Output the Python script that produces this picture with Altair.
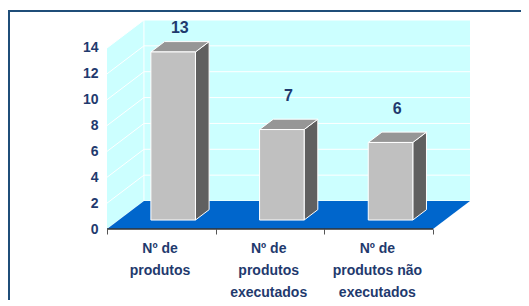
import altair as alt
import pandas as pd

# ---- data ----
label_lines = [
    ["Nº de", "produtos"],
    ["Nº de", "produtos", "executados"],
    ["Nº de", "produtos não", "executados"],
]
values = [13, 7, 6]
y_ticks = [0, 2, 4, 6, 8, 10, 12, 14]

# ---- 3-D geometry (in data units) ----
N = len(values)
YTOP = max(y_ticks)
DX = 0.34          # depth shift along x (category units)
DY = 2.165         # depth shift along y (value units)
XMAX = N + DX
YMAX = YTOP + DY
BW = 0.41          # bar width
F1, F2 = 0.32, 0.69  # bar front/back depth fractions

PLOT_W, PLOT_H = 363, 209
PAD_L, PAD_T = 99, 12
VIEW_W, VIEW_H = 513, 292
PAD_R = VIEW_W - PAD_L - PLOT_W
PAD_B = VIEW_H - PAD_T - PLOT_H

NAVY = "#1F3A6E"
BORDER = "#1F4E79"
WALL = "#CCFFFF"
FLOOR = "#0066CC"
FONT = "Liberation Sans, Arial, sans-serif"

xs = alt.Scale(domain=[0, XMAX], nice=False, zero=False)
ys = alt.Scale(domain=[0, YMAX], nice=False, zero=False)

expr = ""
for i, lines in enumerate(label_lines):
    arr = "[" + ",".join("'" + s + "'" for s in lines) + "]"
    expr += f"datum.value == {i} ? {arr} : "
expr += "''"

x_axis = alt.Axis(
    values=list(range(N + 1)), title=None, domain=False, grid=False,
    tickSize=5, tickColor="#555555", tickWidth=1,
    labelExpr=expr, labelOffset=52.5, labelOverlap=False, labelFlush=False,
    labelBound=False, labelAlign="center",
    labelFont=FONT, labelFontSize=14, labelFontWeight="bold",
    labelColor=NAVY, labelPadding=7, labelLineHeight=22)
y_axis = alt.Axis(
    values=y_ticks, title=None, domain=False, ticks=False, grid=False,
    labelFont=FONT, labelFontSize=14, labelFontWeight="bold",
    labelColor=NAVY, labelPadding=9)


def X(f):
    return alt.X(f, type="quantitative", scale=xs, axis=x_axis)


def Y(f):
    return alt.Y(f, type="quantitative", scale=ys, axis=y_axis)


# back wall
back_df = pd.DataFrame({"x0": [DX], "x1": [XMAX], "y0": [DY], "y1": [YMAX]})
back = alt.Chart(back_df).mark_rect(fill=WALL).encode(
    x=X("x0"), x2="x1", y=Y("y0"), y2="y1")

# side wall
side_df = pd.DataFrame({"x": [0, DX], "yb": [0, DY], "yt": [YTOP, YMAX]})
side = alt.Chart(side_df).mark_area(fill=WALL).encode(x=X("x"), y=Y("yt"), y2="yb")

# grid lines on the walls
grid_df = pd.DataFrame({"t": y_ticks})
grid_df["tb"] = grid_df["t"] + DY
grid_df["xa"] = 0.0
grid_df["xb"] = DX
grid_df["xe"] = XMAX
back_grid = alt.Chart(grid_df).mark_rule(color="white", strokeWidth=1).encode(
    x=X("xb"), x2="xe", y=Y("tb"))
side_grid = alt.Chart(grid_df).mark_rule(color="white", strokeWidth=1).encode(
    x=X("xa"), x2="xb", y=Y("t"), y2="tb")
corner_df = pd.DataFrame({"x": [DX], "y0": [DY], "y1": [YMAX]})
corner = alt.Chart(corner_df).mark_rule(color="white", strokeWidth=1).encode(
    x=X("x"), y=Y("y0"), y2="y1")

# floor
floor_df = pd.DataFrame({"y": [0, DY], "xa": [0, DX], "xb": [N, XMAX]})
floor = alt.Chart(floor_df).mark_area(orient="horizontal", fill=FLOOR).encode(
    y=Y("y"), x=X("xa"), x2="xb")

# front axis line
axis_df = pd.DataFrame({"x0": [0], "x1": [N], "y": [0]})
axis_line = alt.Chart(axis_df).mark_rule(color="#333333", strokeWidth=1.5).encode(
    x=X("x0"), x2="x1", y=Y("y"))

# bars
front_rows, side_rows, top_rows, lab_rows = [], [], [], []
for i, v in enumerate(values):
    xl = i + (1 - BW) / 2
    xr = xl + BW
    front_rows.append({"b": i, "x0": xl + F1 * DX, "x1": xr + F1 * DX,
                       "y0": F1 * DY, "y1": v + F1 * DY})
    for d in (F1, F2):
        side_rows.append({"b": i, "x": xr + d * DX, "yb": d * DY, "yt": v + d * DY})
        top_rows.append({"b": i, "y": v + d * DY, "xa": xl + d * DX, "xb": xr + d * DX})
    lab_rows.append({"x": i + 0.5 + 0.5 * DX, "y": min(v + 3.3, YMAX - 0.65), "t": str(v)})

bar_side = alt.Chart(pd.DataFrame(side_rows)).mark_area(
    fill="#606060", stroke="white", strokeWidth=1).encode(
    x=X("x"), y=Y("yt"), y2="yb", detail="b:N")
bar_top = alt.Chart(pd.DataFrame(top_rows)).mark_area(
    orient="horizontal", fill="#969696", stroke="white", strokeWidth=1).encode(
    y=Y("y"), x=X("xa"), x2="xb", detail="b:N")
bar_front = alt.Chart(pd.DataFrame(front_rows)).mark_rect(
    fill="#C0C0C0", stroke="white", strokeWidth=1).encode(
    x=X("x0"), x2="x1", y=Y("y0"), y2="y1")

labels = alt.Chart(pd.DataFrame(lab_rows)).mark_text(
    font=FONT, fontSize=16, fontWeight="bold", color=NAVY, baseline="middle").encode(
    x=X("x"), y=Y("y"), text="t:N")

frame = alt.Chart(pd.DataFrame({"k": [0]})).mark_rect(
    fillOpacity=0, stroke=BORDER, strokeWidth=2).encode(
    x=alt.value(-PAD_L + 1), x2=alt.value(PLOT_W + PAD_R + 20),
    y=alt.value(-PAD_T + 3), y2=alt.value(PLOT_H + PAD_B + 20))

chart = alt.layer(
    back, side, back_grid, side_grid, corner, floor, axis_line,
    bar_side, bar_top, bar_front, labels, frame,
).properties(
    width=PLOT_W, height=PLOT_H,
    padding={"left": PAD_L, "top": PAD_T, "right": PAD_R, "bottom": PAD_B},
    autosize=alt.AutoSizeParams(type="none"),
    background="white",
).configure_view(stroke=None)

chart.save("out.html", embed_options={"renderer": "svg", "actions": False})
